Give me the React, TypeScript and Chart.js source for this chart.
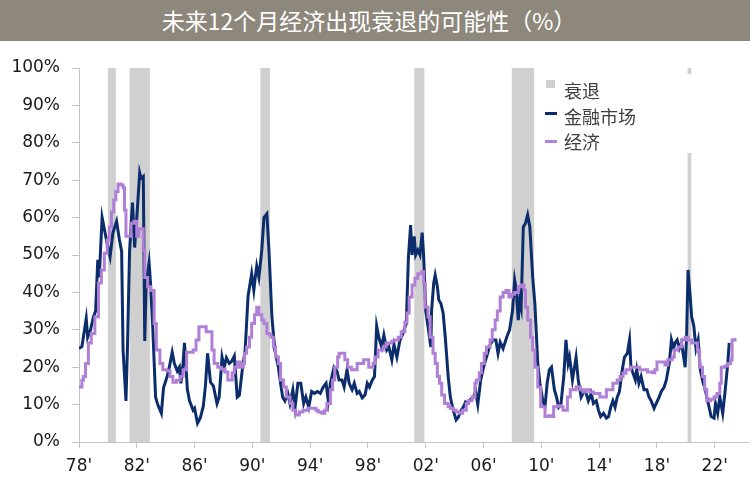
import React, { useEffect, useRef } from "react";
import { Chart, registerables } from "chart.js";
Chart.register(...registerables);

const titleText = "未来12个月经济出现衰退的可能性（%）";
const legendLabels = ["衰退", "金融市场", "经济"];
const yTickValues = [0, 10, 20, 30, 40, 50, 60, 70, 80, 90, 100];
const xTickYears = [1978, 1982, 1986, 1990, 1994, 1998, 2002, 2006, 2010, 2014, 2018, 2022];

const recessionStarts = [1980.0, 1981.5, 1990.55, 2001.2, 2007.95, 2020.12];
const recessionEnds = [1980.55, 1982.9, 1991.22, 2001.9, 2009.5, 2020.38];

const finYears = [
  1978.0, 1978.2, 1978.5, 1978.6, 1978.8, 1979.0, 1979.15, 1979.3, 1979.4, 1979.6, 1979.75, 1979.95,
  1980.15, 1980.35, 1980.6, 1980.8, 1980.95, 1981.05, 1981.25, 1981.35, 1981.5, 1981.7, 1981.85, 1982.0,
  1982.2, 1982.3, 1982.45, 1982.55, 1982.65, 1982.85, 1982.95, 1983.1, 1983.3, 1983.45, 1983.7, 1983.85,
  1984.1, 1984.25, 1984.45, 1984.6, 1984.8, 1984.95, 1985.05, 1985.2, 1985.3, 1985.5, 1985.65, 1985.9,
  1986.0, 1986.2, 1986.4, 1986.6, 1986.75, 1986.9, 1987.1, 1987.3, 1987.55, 1987.7, 1987.9, 1988.05,
  1988.2, 1988.4, 1988.55, 1988.75, 1988.95, 1989.1, 1989.3, 1989.5, 1989.7, 1989.95, 1990.1, 1990.2,
  1990.3, 1990.45, 1990.65, 1990.8, 1991.0, 1991.15, 1991.35, 1991.55, 1991.8, 1991.95, 1992.1, 1992.25,
  1992.45, 1992.6, 1992.8, 1992.95, 1993.15, 1993.35, 1993.55, 1993.7, 1993.9, 1994.1, 1994.3, 1994.5,
  1994.7, 1994.9, 1995.1, 1995.25, 1995.4, 1995.65, 1995.85, 1996.0, 1996.2, 1996.35, 1996.55, 1996.7,
  1996.9, 1997.05, 1997.25, 1997.4, 1997.6, 1997.8, 1997.95, 1998.1, 1998.3, 1998.45, 1998.6, 1998.75,
  1998.95, 1999.1, 1999.3, 1999.45, 1999.65, 1999.8, 2000.0, 2000.2, 2000.4, 2000.65, 2000.8, 2000.95,
  2001.05, 2001.2, 2001.3, 2001.45, 2001.6, 2001.75, 2001.85, 2002.0, 2002.15, 2002.35, 2002.4, 2002.55,
  2002.65, 2002.8, 2002.9, 2003.05, 2003.2, 2003.35, 2003.55, 2003.7, 2003.9, 2004.1, 2004.25, 2004.45,
  2004.6, 2004.75, 2004.9, 2005.1, 2005.3, 2005.45, 2005.6, 2005.8, 2006.0, 2006.2, 2006.45, 2006.65,
  2006.85, 2007.0, 2007.15, 2007.35, 2007.6, 2007.8, 2008.0, 2008.15, 2008.25, 2008.4, 2008.5, 2008.6,
  2008.75, 2008.9, 2009.05, 2009.2, 2009.4, 2009.55, 2009.75, 2009.9, 2010.1, 2010.25, 2010.4, 2010.55,
  2010.7, 2010.9, 2011.05, 2011.2, 2011.35, 2011.55, 2011.7, 2011.85, 2011.95, 2012.15, 2012.4, 2012.55,
  2012.75, 2012.95, 2013.1, 2013.25, 2013.45, 2013.6, 2013.8, 2013.95, 2014.1, 2014.3, 2014.5, 2014.65,
  2014.8, 2014.95, 2015.1, 2015.25, 2015.4, 2015.6, 2015.75, 2015.95, 2016.1, 2016.2, 2016.5, 2016.6,
  2016.75, 2016.9, 2017.1, 2017.3, 2017.45, 2017.6, 2017.8, 2017.95, 2018.15, 2018.3, 2018.5, 2018.65,
  2018.85, 2019.0, 2019.15, 2019.25, 2019.4, 2019.55, 2019.7, 2019.95, 2020.05, 2020.15, 2020.3, 2020.4,
  2020.55, 2020.7, 2020.85, 2021.0, 2021.2, 2021.35, 2021.45, 2021.55, 2021.75, 2021.95, 2022.05, 2022.2,
  2022.35, 2022.55, 2022.7, 2022.9, 2023.0,
];
const finValues = [
  25, 25.5, 33, 28, 30, 33.5, 35, 48.7, 44, 60, 57, 53,
  49.5, 56, 59, 54, 51, 24.6, 11, 24.6, 51, 64, 52, 60,
  72, 70.5, 71, 27, 42.5, 48, 42.5, 31, 12, 10, 7.7, 14.5,
  17.5, 20, 24, 21, 19, 20, 15.7, 21, 26.5, 14, 11, 8.5,
  9, 5, 6.5, 9.5, 15, 23.7, 16, 15, 10.3, 12, 22.7, 20,
  22.5, 21, 21.5, 23, 12, 12.5, 19.3, 24.6, 39, 45, 40.6, 44,
  47, 44, 51.3, 60, 61, 51, 33.5, 24.6, 20, 15.7, 12, 11,
  13, 10.3, 14, 9.2, 15.7, 15.7, 10.3, 12, 9.3, 13.5, 13, 13.5,
  13, 14.7, 15.7, 11, 15.7, 20, 19, 16.6, 16.6, 14.7, 19.3, 15.7,
  14, 15.7, 13, 13.5, 11.8, 12.6, 15.7, 14.7, 16.6, 17.5, 31, 28,
  25.4, 28.6, 24.6, 25.4, 22, 26, 22.7, 27, 28.8, 31.7, 49.5, 58,
  50, 55, 50, 51.3, 50, 56, 50, 35, 31, 25.4, 35, 42.5,
  44.6, 41.6, 38, 37, 34.5, 28, 17.5, 12, 8.5, 5.9, 6.6, 8.5,
  9.3, 10.7, 10.3, 11.4, 12, 13.5, 10, 16.6, 20, 22.7, 26, 27.3,
  27.3, 23.7, 26.7, 25, 28, 30, 35, 43.3, 41, 32.6, 38, 36,
  57.5, 58.5, 60.7, 57.5, 44, 37, 21, 15.7, 11, 9.5, 15.7, 19.3,
  20, 14, 12, 9.3, 10, 17.5, 27.3, 21, 22.7, 16.6, 22.7, 16.6,
  12, 13.5, 13, 11, 13, 10.3, 11, 8.5, 6.8, 7.7, 6.4, 6.8,
  9.3, 11, 9.3, 12, 13.5, 19.3, 22.7, 23.7, 27.3, 20, 16.6, 19.3,
  15.7, 17.5, 14, 14, 12, 11, 9, 10.3, 12, 13.5, 14.7, 16.6,
  21, 27.3, 25, 26.5, 27.3, 25, 26.5, 20, 28, 46, 38.8, 33.5,
  31, 25, 27.3, 19.3, 15.7, 14, 12, 10.3, 6.8, 6.4, 10.3, 7.7,
  12, 7.7, 13, 21, 26.5,
];

const econYears = [
  1978.0, 1978.2, 1978.3, 1978.45, 1978.65, 1978.85, 1979.1, 1979.35, 1979.55, 1979.75, 1979.95, 1980.1,
  1980.25, 1980.4, 1980.55, 1980.7, 1980.9, 1981.05, 1981.15, 1981.25, 1981.45, 1981.6, 1981.8, 1982.0,
  1982.15, 1982.35, 1982.45, 1982.55, 1982.75, 1982.95, 1983.2, 1983.35, 1983.6, 1983.8, 1984.1, 1984.3,
  1984.5, 1984.75, 1985.0, 1985.2, 1985.45, 1985.65, 1985.9, 1986.1, 1986.3, 1986.6, 1986.8, 1987.05,
  1987.2, 1987.35, 1987.6, 1987.85, 1988.1, 1988.3, 1988.6, 1988.75, 1988.95, 1989.15, 1989.35, 1989.45,
  1989.6, 1989.8, 1989.95, 1990.15, 1990.3, 1990.45, 1990.65, 1990.8, 1991.0, 1991.2, 1991.3, 1991.45,
  1991.6, 1991.8, 1991.95, 1992.15, 1992.35, 1992.6, 1992.8, 1993.0, 1993.25, 1993.5, 1993.85, 1994.2,
  1994.4, 1994.55, 1994.8, 1995.0, 1995.15, 1995.4, 1995.55, 1995.7, 1995.9, 1996.0, 1996.2, 1996.4,
  1996.6, 1996.85, 1997.1, 1997.25, 1997.5, 1997.7, 1997.9, 1998.05, 1998.2, 1998.35, 1998.5, 1998.7,
  1998.85, 1999.05, 1999.25, 1999.45, 1999.65, 1999.85, 2000.1, 2000.3, 2000.55, 2000.7, 2000.85, 2001.05,
  2001.25, 2001.45, 2001.7, 2001.85, 2001.95, 2002.15, 2002.3, 2002.5, 2002.65, 2002.8, 2002.95, 2003.1,
  2003.3, 2003.55, 2003.7, 2003.9, 2004.1, 2004.35, 2004.55, 2004.8, 2004.95, 2005.2, 2005.4, 2005.5,
  2005.7, 2005.85, 2006.05, 2006.2, 2006.45, 2006.6, 2006.8, 2006.95, 2007.15, 2007.35, 2007.55, 2007.75,
  2007.95, 2008.15, 2008.4, 2008.6, 2008.8, 2008.9, 2009.05, 2009.25, 2009.4, 2009.55, 2009.75, 2009.95,
  2010.25, 2010.5, 2010.75, 2010.85, 2011.1, 2011.35, 2011.5, 2011.8, 2012.0, 2012.4, 2012.7, 2012.9,
  2013.1, 2013.35, 2013.6, 2013.85, 2014.05, 2014.25, 2014.5, 2014.75, 2014.95, 2015.25, 2015.45, 2015.65,
  2015.85, 2016.15, 2016.6, 2016.8, 2017.1, 2017.35, 2017.7, 2017.85, 2018.0, 2018.35, 2018.55, 2018.75,
  2019.05, 2019.2, 2019.45, 2019.7, 2019.95, 2020.15, 2020.4, 2020.65, 2020.8, 2020.95, 2021.15, 2021.3,
  2021.45, 2021.7, 2021.95, 2022.15, 2022.35, 2022.45, 2022.7, 2022.9, 2023.1, 2023.2, 2023.4,
];
const econValues = [
  14.7, 16.5, 17.5, 21, 26.5, 29, 33.5, 42.5, 46, 50.5, 54, 57.5,
  61.5, 64.7, 67, 69, 68.7, 68, 62, 55, 55, 58.5, 59, 55,
  57, 57, 51.3, 44, 41.5, 40.5, 31.7, 24.6, 21, 19.3, 19, 17.5,
  16, 16.5, 17.5, 19.3, 24, 24, 24.6, 27.3, 30.8, 30.8, 29.5, 29.5,
  24.6, 21, 20, 19.5, 18.7, 16.6, 18.5, 20, 21.4, 20, 21, 23.7,
  25.4, 28, 31.7, 34, 36, 34, 32.6, 31.7, 29, 28.6, 28, 25.4,
  22.7, 21, 16.6, 14.7, 12, 10.3, 8.5, 7.2, 8, 8.5, 9, 9,
  8.5, 8, 7.7, 8.5, 10.3, 14, 16.6, 20, 22.7, 23.7, 23.7, 22,
  20, 19.3, 19.3, 21, 21, 22, 22, 20, 20, 21, 22.7, 24.6,
  24.6, 25.4, 26.5, 26.5, 27, 27.3, 28, 29.5, 32, 34.5, 38.8, 42,
  43.8, 45, 45.5, 42.5, 36, 33.5, 28, 23.7, 21, 17.5, 15.7, 12.6,
  10.3, 9.4, 9, 8.5, 8, 7.7, 8.5, 10.3, 11, 12, 15.7, 16.6,
  18.5, 21, 23.7, 25.4, 27.3, 30, 32.6, 35, 38.8, 40, 40.5, 38.8,
  39.5, 40, 41.5, 42, 40.6, 36, 32.6, 28, 24.6, 20, 14.7, 9.4,
  6.8, 7, 6.8, 9.4, 9.7, 9.4, 8.5, 12, 14, 14.7, 14, 13.4,
  14, 13.4, 13, 13, 12, 12, 14, 14, 15.7, 16.6, 17.5, 18.4,
  19.3, 20, 20, 19.3, 19.3, 18.7, 18.5, 19.3, 21.4, 21.4, 20.6, 22,
  22.7, 24.6, 25.4, 27.3, 28, 27.3, 26.5, 26.5, 24.6, 20, 17.5, 14,
  11, 11.4, 12, 13, 15.7, 20, 20.3, 21, 22, 27.3, 27.8,
];

const RECESSION_COLOR = "#d0d0d0";
const FIN_COLOR = "#0c2d6b";
const ECON_COLOR = "#b07fd6";
const AXIS_COLOR = "#c4c4c4";

export default function App() {
  const canvasRef = useRef<HTMLCanvasElement | null>(null);

  useEffect(() => {
    document.body.style.margin = "0";
    const canvas = canvasRef.current;
    if (!canvas) return;

    const recessionPlugin = {
      id: "recessionBands",
      beforeDatasetsDraw(chart: any) {
        const { ctx, chartArea, scales } = chart;
        const xs = scales.x;
        ctx.save();
        ctx.fillStyle = RECESSION_COLOR;
        recessionStarts.forEach((s, i) => {
          const x0 = xs.getPixelForValue(s);
          const x1 = xs.getPixelForValue(recessionEnds[i]);
          ctx.fillRect(x0, chartArea.top, x1 - x0, chartArea.bottom - chartArea.top);
        });
        ctx.restore();
      },
    };

    const chart = new Chart(canvas, {
      type: "line",
      data: {
        datasets: [
          {
            label: legendLabels[2],
            data: econYears.map((x, i) => ({ x, y: econValues[i] })),
            borderColor: ECON_COLOR,
            backgroundColor: ECON_COLOR,
            borderWidth: 3,
            pointRadius: 0,
            stepped: true,
            fill: false,
          },
          {
            label: legendLabels[1],
            data: finYears.map((x, i) => ({ x, y: finValues[i] })),
            borderColor: FIN_COLOR,
            backgroundColor: FIN_COLOR,
            borderWidth: 3,
            pointRadius: 0,
            tension: 0,
            fill: false,
          },
        ],
      },
      options: {
        animation: false,
        responsive: false,
        maintainAspectRatio: false,
        layout: { padding: { top: 27, right: 2, left: 0, bottom: 0 } },
        plugins: { legend: { display: false }, tooltip: { enabled: false } },
        scales: {
          x: {
            type: "linear",
            min: 1978,
            max: 2024.3,
            afterBuildTicks: (s: any) => {
              s.ticks = xTickYears.map((v) => ({ value: v }));
            },
            afterFit: (s: any) => {
              s.height = 40;
            },
            grid: { drawOnChartArea: false, drawTicks: true, tickLength: 6, color: AXIS_COLOR },
            border: { display: true, color: AXIS_COLOR, width: 1 },
            ticks: {
              autoSkip: false,
              maxRotation: 0,
              padding: 8,
              color: "#1a1a1a",
              font: { family: "DejaVu Sans", size: 17 },
              callback: (v: any) => String(Number(v) % 100).padStart(2, "0") + "'",
            },
          },
          y: {
            type: "linear",
            min: 0,
            max: 100,
            afterBuildTicks: (s: any) => {
              s.ticks = yTickValues.map((v) => ({ value: v }));
            },
            afterFit: (s: any) => {
              s.width = 79;
            },
            grid: { drawOnChartArea: false, drawTicks: true, tickLength: 7, color: AXIS_COLOR },
            border: { display: true, color: AXIS_COLOR, width: 1 },
            ticks: {
              padding: 12,
              color: "#1a1a1a",
              font: { family: "DejaVu Sans", size: 17 },
              callback: (v: any) => v + "%",
            },
          },
        },
      },
      plugins: [recessionPlugin],
    });

    return () => chart.destroy();
  }, []);

  const textFont = '"Noto Sans CJK SC", "Noto Sans", sans-serif';

  return (
    <div style={{ position: "relative", width: 750, height: 482, background: "#fff", overflow: "hidden" }}>
      <div
        style={{
          height: 41,
          background: "#8e877c",
          color: "#fff",
          fontFamily: textFont,
          fontSize: 23,
          lineHeight: "41px",
          textAlign: "center",
          paddingRight: 12,
          boxSizing: "border-box",
          whiteSpace: "nowrap",
        }}
      >
        {titleText}
      </div>
      <canvas ref={canvasRef} width={750} height={441} style={{ display: "block", width: 750, height: 441 }} />
      <div
        style={{
          position: "absolute",
          left: 540,
          top: 74,
          width: 155,
          height: 79,
          background: "#fff",
          fontFamily: textFont,
          fontSize: 18,
          color: "#404040",
        }}
      >
        <div style={{ position: "absolute", left: 6, top: 6, width: 9, height: 8, background: RECESSION_COLOR }} />
        <div style={{ position: "absolute", left: 24, top: 4, lineHeight: "24px" }}>{legendLabels[0]}</div>
        <div style={{ position: "absolute", left: 5, top: 38, width: 12, height: 3, background: FIN_COLOR }} />
        <div style={{ position: "absolute", left: 24, top: 30, lineHeight: "24px" }}>{legendLabels[1]}</div>
        <div style={{ position: "absolute", left: 5, top: 66, width: 12, height: 3, background: ECON_COLOR }} />
        <div style={{ position: "absolute", left: 24, top: 55, lineHeight: "24px" }}>{legendLabels[2]}</div>
      </div>
    </div>
  );
}
